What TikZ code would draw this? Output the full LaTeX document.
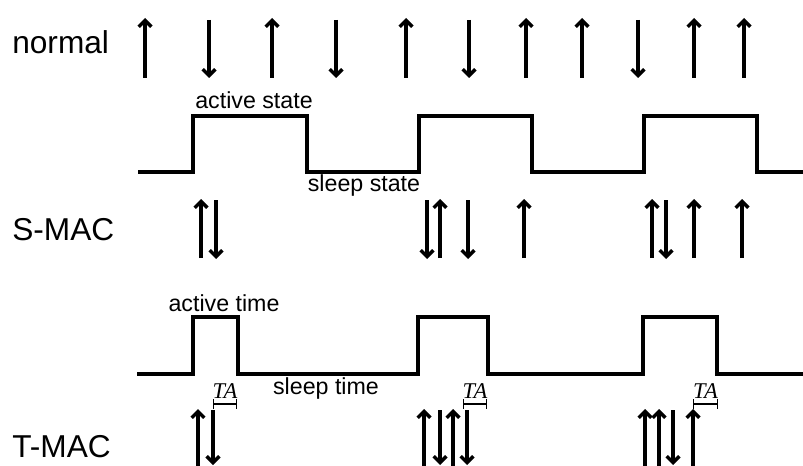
\documentclass[tikz,border=0pt]{standalone}
\usepackage{fontspec}
\setmainfont{Liberation Sans}
\newfontfamily\tafont{Liberation Serif}
\usetikzlibrary{arrows.meta}

\begin{document}
\begin{tikzpicture}[
        x = 0.025cm, y = -0.025cm,
        every node/.style = {inner sep = 0pt},
        rowlabel/.style = {anchor = west, font = \fontsize{22.5}{24}\selectfont},
        statelabel/.style = {font = \fontsize{16.5}{18}\selectfont},
        talabel/.style = {font = \fontsize{16}{18}\selectfont\tafont\itshape},
        sig/.style = {line width = 2.3pt},
        msg/.style = {line width = 2.4pt, -{Straight Barb[length=4.5pt, width=9pt]}},
        span/.style = {line width = 0.9pt, {Bar[width=7pt]}-{Bar[width=7pt]}}
        ]
        \useasboundingbox (0,0) rectangle (803,466);

        % row labels
        \node[rowlabel] (normal) at (12,42) {normal};
        \node[rowlabel] (smac) at (12,230) {S-MAC};
        \node[rowlabel] (tmac) at (12,447) {T-MAC};

        % normal: messages come at any time
        \foreach \x in {145,272,406,526,582,694,744}
            \draw[msg] (\x,78) -- (\x,18);
        \foreach \x in {209,336,469,638}
            \draw[msg] (\x,20) -- (\x,78);

        % S-MAC duty cycle
        \draw[sig] (138,172) -- (193,172) -- (193,116) -- (307,116) -- (307,172)
            -- (419,172) -- (419,116) -- (532,116) -- (532,172)
            -- (644,172) -- (644,116) -- (757,116) -- (757,172) -- (803,172);
        \node[statelabel] (active) at (254,100) {active state};
        \node[statelabel] (sleep) at (364,186) {sleep state};

        \foreach \x in {201,440,524,652,694,742}
            \draw[msg] (\x,258) -- (\x,199);
        \foreach \x in {216,427,468,666}
            \draw[msg] (\x,200) -- (\x,259);

        % T-MAC adaptive active time
        \draw[sig] (137,374) -- (193,374) -- (193,317) -- (238,317) -- (238,374)
            -- (418,374) -- (418,317) -- (488,317) -- (488,374)
            -- (643,374) -- (643,317) -- (717,317) -- (717,374) -- (803,374);
        \node[statelabel] (activet) at (224,303) {active time};
        \node[statelabel] (sleept) at (326,388) {sleep time};

        \foreach \a/\b [count=\i] in {213/237, 463/487, 693/718} {
            \draw[span] (\a,404) -- (\b,404);
            \node[talabel] (ta\i) at ({(\a+\b)/2},391) {TA};
        }

        \foreach \x in {198,424,453,645,659,693}
            \draw[msg] (\x,466) -- (\x,409);
        \foreach \x in {213,440,467,673}
            \draw[msg] (\x,410) -- (\x,465);
\end{tikzpicture}
\end{document}
